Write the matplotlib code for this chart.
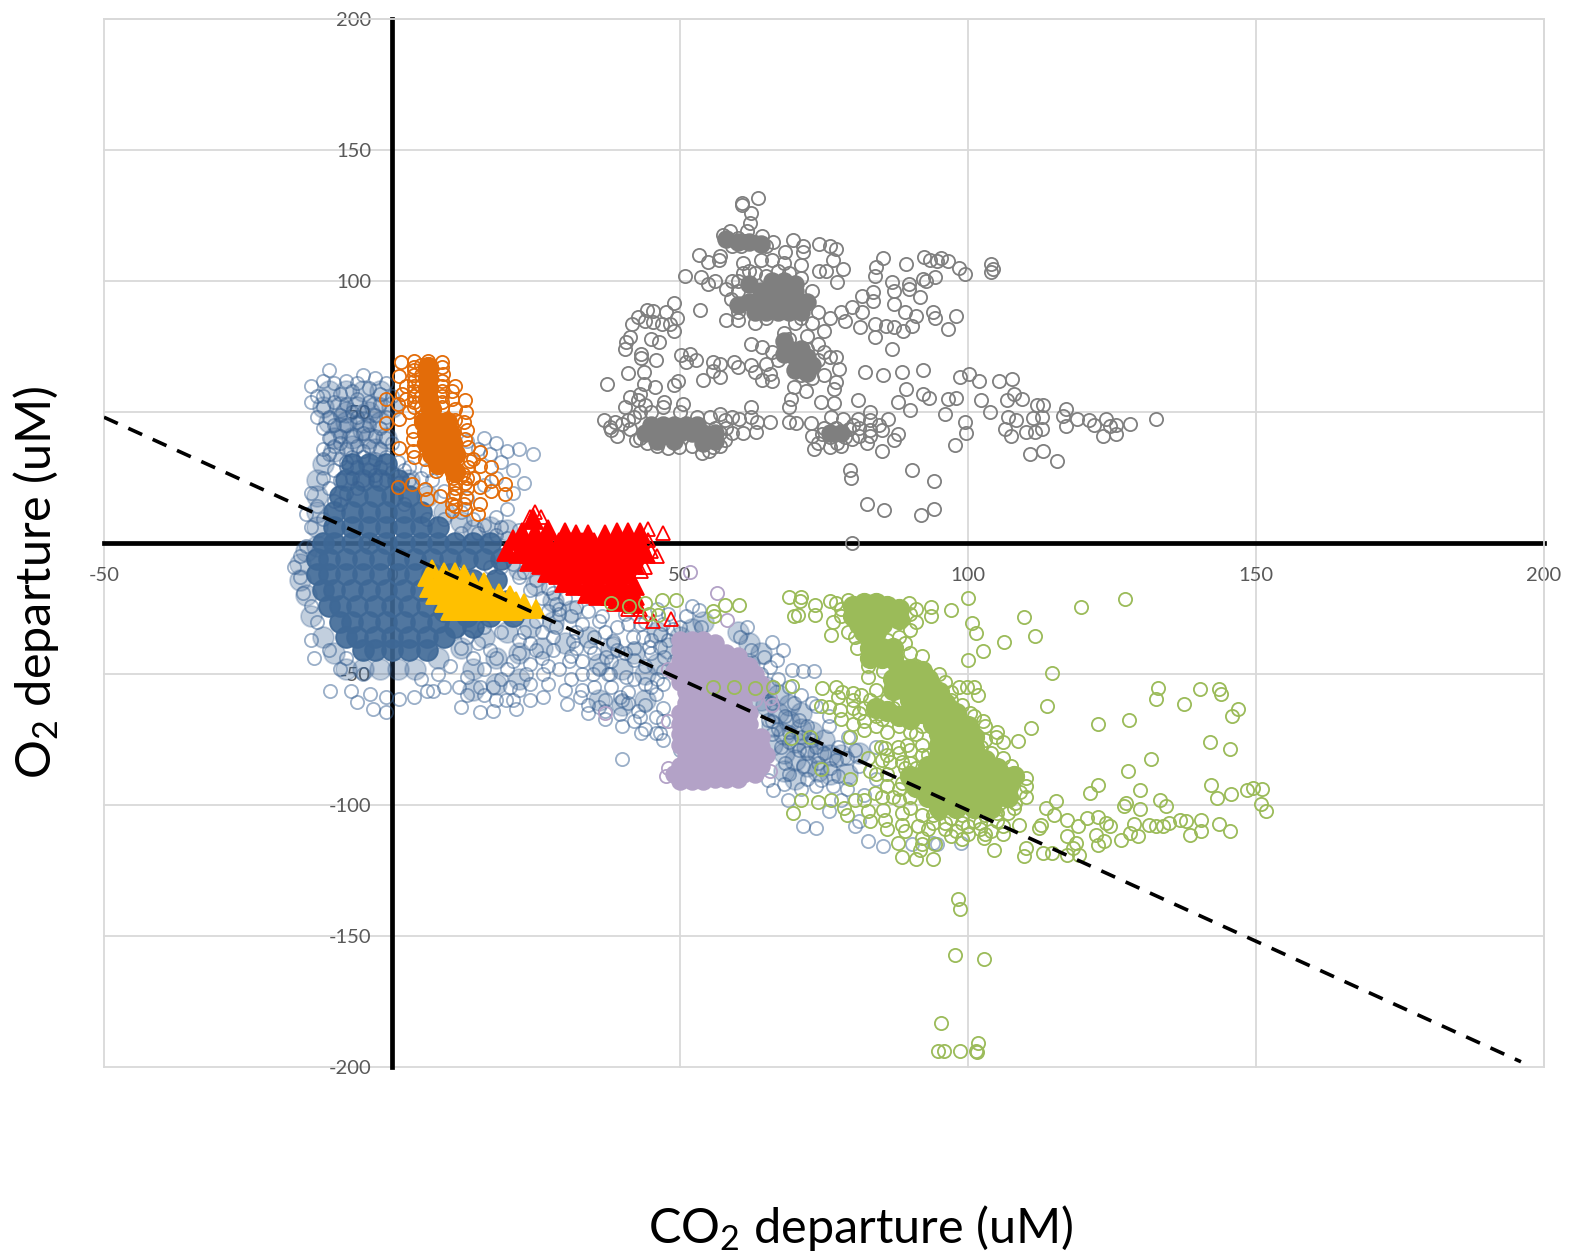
import numpy as np
from matplotlib import pyplot as plt

plt.rcParams['font.family'] = ['Lato', 'DejaVu Sans']
plt.rcParams['mathtext.default'] = 'regular'
plt.rcParams['axes.unicode_minus'] = False

# Departure values as (CO2, O2) pairs
blue_rings = [
    (-11,66),(-12,62),(-14,60),(-13,56),(-10,61),(-8,62),(-6,61),(-5,64),(-3,63),(-1,61),(-9,57),(-7,58),(-4,59),(-2,57),
    (-14,54),(-12,52),(-10,54),(-8,53),(-6,55),(-4,54),(-2,53),(0,56),(-13,48),(-11,48),(-9,49),(-7,50),(-5,50),(-3,49),(-1,48),
    (-12,44),(-10,45),(-8,45),(-6,46),(-4,45),(-2,44),(-11,40),(-9,41),(-7,41),(-5,42),(-3,41),(-1,40),(-12,36),(-10,37),(-8,36),
    (-6,37),(-4,37),(-2,36),(0,38),(-12,32),(-9,32),(-7,33),(-5,33),(-3,32),(-1,33),(1,31),(-10,28),(-8,29),(-6,29),(-4,28),(-2,29),
    (0,27),(2,28),(-12,25),(-9,24),(-7,25),(-5,24),(-3,24),(-1,24),(1,23),(3,24),(-14,19),(-13,14),(-11,21),(-15,11),(-14,6),(-12,9),
    (-10,16),(-8,19),(6,41),(8,37),(13,39),(16,40),(18,38),(20,35),(22,36),(24.5,34),(17,34),(19,31),(15,36),(21,28),(18,25),(16,22),
    (23,23),(21,19),(5,25),(7,24),(3,29),(20,13),(18,10),(16,7),(14,9),(19,6),(12,4),(22,5),
    (-16,-5),(-15,-1),(-17,-9),(-16,-13),(-15.5,-19),(-14,-24),(-13,-30),(-14,-37),(-13.5,-44),(-11,-41),(-9,-48),(-8,-44),(-5,-50),
    (-10.8,-56.6),(-7.2,-56.6),(-6,-60.8),(-3.3,-63.4),(-1,-64.6),(-3.9,-57.6),(-1,-58.9),(1.3,-59.5),(3.9,-58.9),(6,-56.4),(7.1,-56.4),
    (11.7,-55),(11.9,-62.7),(15.2,-64.6),(17.6,-64),(21.6,-63.4),(26.2,-58.9),(19.8,-60),(15.2,-55),(20.4,-55),(17.6,-55),(23.3,-50),
    (26.2,-50),(30.3,-61.5),(32.6,-58.9),(36,-62.7),(39.5,-65.3),(43,-66.5),(39.5,-58.9),(42.7,-64),(45.9,-66.5),(45.9,-57.6),(40.7,-51),
    (37.8,-50),(37.2,-43.6),(34.3,-39.8),(31.4,-37.3),(28.5,-32),(25,-29.6),(28,-41),(30.8,-45),(34.9,-50),(44.7,-39.8),(46.5,-34.7),
    (41.8,-36),(38.4,-37.3),(36,-29.6),(32,-24.6),(28.5,-23.3),(12,-40),(14,-44),(16,-48),(18,-44),(20,-48),(22,-42),(24,-38),(26,-44),
    (10,-47),(8,-50),(13,-51),(16,-58),(19,-52),(22,-56),(24,-60),(18,-60),(33,-31),(35,-36),(37,-34),(39,-41),(33,-45),(36,-48),(31,-52),
    (34,-62),(37,-60),(41,-61),(44,-62),(47,-63),(36.4,-28),(40.5,-27),(39,-32),(43.5,-36),(46.5,-39.6),(38.3,-38),(40.5,-42),(37.5,-50),
    (42,-44.7),(45,-42),(47.3,-43.4),(48.8,-33),(51,-28),(53.3,-25.6),(53.7,-32),(61.6,-32),(60.4,-35.8),(66,-37.7),(67.9,-40.9),(65.7,-47.2),
    (69.5,-48.5),(73.2,-48.7),(71.4,-49),(62.3,-41),(64.6,-43.4),(66.8,-44.7),(69.8,-61),(73.6,-62.4),(75.9,-70),(72.1,-70),(66,-61),(68.3,-66.2),
    (70.6,-67.5),(65.3,-67.5),(73.6,-77.7),(77.4,-77.7),(80.4,-79),(81.1,-85.3),(67.6,-77.7),(70.6,-79),(64.6,-81.5),(68.3,-84),(71.4,-85.3),
    (74.4,-90.4),(77.4,-89),(76.6,-92.9),(65.3,-90.4),(66.1,-94.2),(68.7,-98),(73.6,-92.9),(75.9,-102.4),(80.4,-108),(81.1,-106),(71.4,-108),
    (73.6,-108.8),(82.6,-113.8),(85.3,-115.7),(94.7,-115),(94,-114.5),(98.8,-114.5),(90.2,-115),(84.1,-77.7),(79.2,-73.9),(75.9,-66.2),(72.9,-61.2),
    (46.5,-72.6),(43.2,-72.6),(45.8,-72.6),(47,-75),(50,-79),(40,-82.4),(66,-68),(67,-71),(69,-72),(71,-74),(73,-75),(75,-80),(77,-83),(79,-82),
    (66,-73),(69,-76),(72,-80),(74,-84),(76,-86),(69,-88),(72,-90),(68,-92),(71,-94),(79,-94),(82,-96),(84,-90),(78,-98),(69,-55),(71,-58),(67,-52),
    (64,-50),(66,-55),(64,-57),(45,-55),(42,-52),(47,-49),(44,-47),(38,-55),(35,-55),
    (28,-36),(31,-43),(33,-50),(30,-56),(24,-46),(27,-54),(21,-60),(13,-58),(9,-55),(5,-52),(41,-57),(44,-54),(47,-54),(37,-64),(40,-60),(33,-56),
    (38,-45),(42,-40),(45,-37),(48,-37),(35,-42),(32,-34),(29,-27),(26,-34),(23,-34),(41,-31),(44,-30),(47,-31),(50,-32),(52,-24),(48,-27),(46,-25),
    (43,-31),(49,-45),(46,-52),(42,-68),(44,-71),(47,-68),(40,-70),(37,-67),(34,-65),
    (21,-8),(23,-11),(25,-14),(27,-17),(22,-13),(24,-18),(26,-21),(28,-19),(30,-21),(29,-25),(27,-26),(31,-28),(34,-26),(24,-3),(21,-2),(19,-9),(17,-9),
    (20,2),(18,3),(15,4),(-12,56),(-6,48),(-9,38),(-5,35),(-8,31),(-11,34),(-3,26),(-6,21),(-9,15),(6,28),(9,20),(13,17),(12,12),(9,9),(6,9),(2,15),
    (13,-36),(16,-32),(19,-34),(22,-37),(25,-41),(27,-47),(21,-45),(17,-41),(15,-38),(24,-54),(29,-48),(32,-40),
]
blue_mid = [
    (-11,58),(-8,58),(-5,58),(-2,58),(-12,52),(-9,52),(-6,52),(-3,52),(0,52),(-11,46),(-8,46),(-5,46),(-2,46),(-10,40),(-7,40),(-4,40),(-1,40),(-10,35),(-13,24),
    (-13,18),(-13,12),(-13,6),(3,24),(6,18),(9,12),(12,8),(14,5),(17,6),(20,5),(-15,-3),(-16,-8),(-16,-14),(-15,-20),(-14,-28),(-12,-36),(-10,-42),(-8,-48),(-5,-48),
    (-2,-48),(1,-48),(4,-48),(8,-44),(12,-40),(16,-36),(20,-34),(24,-32),(28,-30),(14,-48),(18,-44),(22,-42),(26,-40),(30,-38),(34,-36),(38,-40),(42,-42),(18,-54),
    (22,-52),(14,-56),(36,-46),(40,-48),(44,-50),(46,-46),(36,-60),(40,-62),(44,-60),(48,-40),(50,-36),(54,-30),(52,-33),(46,-34),
    (62,-38),(64,-42),(65,-55),(67,-58),(69,-62),(71,-65),(65,-62),(67,-65),(69,-68),(71,-71),(73,-72),(75,-75),(66,-70),(68,-73),(70,-76),(72,-78),(74,-80),(76,-81),
    (78,-81),(66,-77),(68,-80),(70,-83),(72,-85),(74,-87),(76,-88),(79,-88),(68,-87),(70,-90),(81,-80),(60,-34),(62,-46),(64,-60),
    (-8,50),(-4,50),(-9,44),(-5,43),(-7,37),(-3,36),(-12,30),(-13,-1),(22,-10),(25,-16),(28,-22),(31,-26),
]
blue_core = [
    (-7,30),(-4,30),(-1,30),(-8,24),(-5,24),(-2,24),(1,24),(-9,18),(-6,18),(-3,18),(0,18),(3,18),(-10,12),(-7,12),(-4,12),(-1,12),(2,12),(5,12),
    (-10,6),(-7,6),(-4,6),(-1,6),(2,6),(5,6),(8,6),(-12,0),(-10,0),(-7,0),(-4,0),(-1,0),(2,0),(5,0),(8,0),(11,0),(14,0),(17,0),
    (-13,-6),(-11,-6),(-8,-6),(-5,-6),(-2,-6),(1,-6),(4,-6),(7,-6),(10,-6),(13,-6),(16,-6),(19,-6),
    (-13,-12),(-11,-12),(-8,-12),(-5,-12),(-2,-12),(1,-12),(4,-12),(7,-12),(10,-12),(14,-14),(18,-14),
    (-12,-18),(-10,-18),(-7,-18),(-4,-18),(-1,-18),(2,-18),(5,-18),(8,-18),(12,-20),(16,-20),(20,-22),
    (-11,-24),(-9,-24),(-6,-24),(-3,-24),(0,-24),(3,-24),(6,-24),(9,-26),(13,-28),(17,-28),(21,-28),
    (-9,-30),(-7,-30),(-4,-30),(-1,-30),(2,-30),(5,-30),(8,-30),(11,-32),(14,-32),
    (-8,-36),(-6,-36),(-3,-36),(0,-36),(3,-36),(6,-36),(9,-36),(-5,-41),(-3,-41),(0,-41),(3,-41),(6,-41),
]
grey_rings = [
    (63.5,131.5),(60.7,129.6),(60.8,129),(62.3,125.9),(62.1,122),(61.6,119),(57.4,117.5),(58.7,119),(60,116.6),(61.3,115.4),(63,114.7),(64.2,117.3),
    (64.9,113.5),(66.2,114.7),(59,113.5),(60.6,113.5),(69.7,115.6),(68.2,110.9),(71.4,113.5),(71.4,110.9),(74.2,114.3),(76,113.5),(77.1,112.2),(76.5,108),
    (78.3,104.6),(74.2,103.7),(75.4,103.7),(77.2,99.5),(53.3,110),(54.8,107.4),(56.7,108),(57,109.6),(50.8,102),(53.7,101.4),(54.8,99),(56.1,99.9),
    (49,91.6),(53.5,89),(58.9,93),(85.2,108.8),(84,105.2),(83.9,101.8),(89.3,106.5),(92.4,109),(93.4,108.1),(94.6,107.7),(95.3,108.8),(96.6,107.5),
    (98.4,105),(99.4,102.7),(104,106.5),(104.3,104.6),(104,103.3),(94.3,101.4),(92.7,100.1),(92.2,100.8),(86.8,99.7),(89.7,98.9),(87.1,96.3),(89.7,97),
    (81.6,94.4),(83.5,95.7),(79.9,90),(81.6,88),(83.5,92.5),(87.1,91.2),(91.7,93.8),(89.1,88),(91,86.8),(94,88),(94.3,85.9),(97.9,86.5),(96.6,81.7),
    (81.2,82.4),(83.9,83.6),(85.8,83),(87.1,82.4),(88.8,81),(90.3,83),(83.9,78.6),(86.8,73.9),(78.6,84.9),(44.3,89),(45.3,88.7),(47.6,88),(42.7,86.4),
    (44,84.9),(45.3,84.3),(46.9,83.6),(48.2,83.6),(49.5,85.9),(41.7,83.6),(48.9,81),(45,77.9),(46.3,76.6),(41.4,78.6),(40.7,76.6),(40.5,74.1),(43.3,72.2),
    (43.3,70.6),(45.8,69.7),(50.1,71.6),(51.8,72),(51,69),(52.8,69.9),(41,64.8),(43.8,65.2),(37.3,60.5),(43.7,60.8),(45.6,59.5),(48.9,60.2),(49.7,61.7),
    (54,62.4),(55.8,69),(57,68.4),(59.3,69),(60,67),(55.8,65.8),(57,63.3),(62.3,76),(64.2,74.7),(64.9,68.4),(62.3,67.8),(63,65.2),(65.6,64.6),(64.2,62.4),
    (65.9,62),(69.8,59.5),(71.8,58),(74.4,53.8),(76.7,53.4),(69.2,55),(69,52),(77,61.4),(76.7,58.9),(77.6,66.5),(76,71),(82.2,65.2),(85.2,64.2),(88.6,65.2),
    (92.2,65.9),(89.3,58.9),(92.2,56.7),(93.3,55.5),(87.8,53.8),(90,50.9),(96,49.4),(96.6,55),(97.9,55.3),(98.6,63.3),(100.2,64.6),(101.9,61.8),(105.4,61.7),
    (107.7,62.7),(102.2,54.4),(103.8,50),(106.7,54.4),(108,57),(109.3,55),(112,52.8),(113,52.5),(107,48),(108.4,46.8),(111.3,47.8),(112.9,48),(117,51.3),
    (116.5,48.3),(117.1,44.5),(119,47.5),(121,47),(121.8,45.2),(124,47.2),(124.7,44.5),(125.7,45),(123.4,41),(125.7,41.7),(128.2,45.6),(132.7,47.5),(106.4,43.7),
    (107.4,40.7),(110,42.4),(111.6,42.4),(112.9,43.7),(110.7,34),(113,35),(115.4,31.3),(99.5,46.2),(99.6,42.1),(97.8,37.3),(79.6,28),(79.7,24.9),(90.3,27.8),
    (94.1,23.6),(82.5,14.8),(85.5,12.6),(91.8,10.7),(94.1,13),(79.8,0),(72.7,45.8),(73,41),(73.2,35.7),(74.7,41.7),(76,40.5),(77.3,41.7),(78.6,40.5),(79.9,39.8),
    (76,36.7),(77.3,38),(79.3,43.7),(80.9,47.5),(82.9,46.8),(84.5,45),(86.1,47.5),(87.8,41.7),(87.1,39.2),(85,35),(82.5,38),(80.9,54.4),(82.9,50),(78.3,47.5),
    (76.3,48),(69,46.2),(70.1,45.8),(62.3,52),(62.3,48),(65.6,46.2),(63.3,46),(61,41.8),(63.2,42.4),(60.3,47.5),(36.8,46.8),(37.8,44.3),(38.8,46.2),(40.4,52),
    (41.4,55.7),(43,57),(42.7,54.4),(44,52.5),(47.3,53.8),(50.5,53),(47,52),(40,45.6),(41.4,43.7),(42.3,39.2),(44.2,38),(47.9,36.4),(49.9,36.7),(53.8,34.4),
    (55.8,36.7),(57.8,39.2),(56.9,49.4),(55.2,48),(57.8,46.8),(56,44),(57,42),(59,100),(60,96),(61,103),(63,103),(65,102),(67,104),(69,103),(71,101),(73,96),
    (72,92),(74,88),(76,86),(78,88),(71,86),(70,84),(73,84),(75,81),(68,80),(69,78),(60,88),(58,85),(60,85),(63,84),(65,86),(72,79),(74,76),(75,73),(77,71),
    (72,74),(66,73),(67,70),(74,70),(71,64),(73,63),(75,64),(61,107),(64,108),(66,108),(68,107),(71,106),(62,104),(60,100),(58,97),
    (75,44),(77,44),(81,44),(83,43),(85,43),(74,38),(78,37),(80,45),(81,41),(83,41),(38,43),(39,41),(42,48),(43,50),(45,50),(50,50),(53,48),(58,44),(59,42),(41,47),
    (43,40),(46,37),(52,37),(55,35),(57,37),(59,48),
]
grey_core = [
    (63,88),(65,88),(67,88),(69,88),(71,88),(62,92),(64,92),(66,92),(68,92),(70,92),(72,92),(64,96),(66,96),(68,96),(70,96),(66,100),(68,100),(62,99),(70,99),(60,91),
    (44,42),(46,42),(48,42),(50,42),(52,42),(54,42),(56,42),(45,45),(47,45),(49,45),(51,45),(53,45),(46,39),(49,39),(54,38),(56,39),
    (68,77),(69,74),(70,71),(71,68),(72,65),(71,74),(72,71),(73,68),(68,72),(70,66),(58,116),(60,115),(62,115),(64,114),(76,42),(78,42),
]
orange_rings = [
    (1.6,69),(3.9,69.6),(6.3,69.3),(8.6,69.2),(1.3,63.9),(8.9,64.5),(10.9,60),(12.6,54.6),(12.9,49.9),(-1,55),(-1.1,45.8),(1.3,47.3),(1,53),(3.6,42.9),
    (3.6,39.7),(1.2,36.3),(3.6,35.2),(3.9,32.7),(5.8,32),(1,21.2),(3.4,22.5),(5.7,20.6),(6,16.8),(8.3,18),(10.6,17.4),(10.4,12.3),(12.7,13),(15,11),(15.2,14.9),
    (12.9,17.4),(15.2,21.2),(17.2,20),(19.7,22.5),(19.7,18.7),(17.2,28.9),(15.2,29.5),(15.2,34.6),(13.2,36.5),(12.6,39.7),(7.7,27.6),(10.6,25),(17.2,23.8),
    (13.2,28.9),(13.5,31.4),(12.3,26.3),(3.9,66),(3.9,62),(3.9,58),(3.9,54),(8.7,60),(8.7,56),(8.7,52),(3,50),(5,48),(1.8,57),(10.5,55),(11,51),(11,21),(11,14),
    (13,21),(10.4,15),(12.6,23),(14,25),(14,32),(3.9,67),(3.9,64),(3.9,60),(3.9,56),(3.9,52),(8.7,67),(8.7,62),(8.7,58),(8.7,54),(2.5,60),(2.5,55),(10.5,58),(5,52),
    (5,56),(5,60),(5,64),(5,68),(11,47),(12.5,46),(13,43),(11,19),(12.5,15),(13,25),(11,23),
]
orange_core = [
    (6.3,67),(6.3,63),(6.3,59),(6.3,55),(6.8,51),(5.5,46),(7.5,46),(9.5,46),(6,42),(8,42),(10,42),(6,38),(8,38),(10.5,38),(7,34),(9,34),(11,34),(8,30),(10,30),(11,27),
]
yellow_vals = [
    (7,-10),(9,-11),(11,-11),(12.5,-12),(6,-13),(8,-14),(10,-14),(12,-14),(14,-15),(16,-15),(6.5,-17),(8.5,-17),(10.5,-17),(12.5,-17),(14.5,-18),(16.5,-18),(18.5,-19),
    (20.5,-20),(7.5,-20),(9.5,-20),(11.5,-20),(13.5,-20),(15.5,-21),(17.5,-21),(19.5,-22),(21.5,-22),(23,-23),(9,-23),(11,-23),(13,-23),(15,-24),(17,-24),(19,-24),
    (21,-25),(23,-25),(25,-25),(10,-26),(12,-26),(14,-26),(16,-26),(18,-26),(20,-26),(11,-26),(14,-26),(19,-26),(21,-26),
]
red_open = [
    (44.4,5.3),(47,4),(48.5,-29),(45.3,-29.6),(43.3,-27.7),(43.3,-10.6),(44,-9.3),(24.8,12),(24,10),(25.8,10),(45,-3),(46,-5),(44.5,1),(43,-25),(41,-25),
]
red_core = [
    (24.5,9),(22.5,4),(24.8,4),(27,5),(30,4),(32,3),(34,3),(37,3),(39,4),(41,4),(43,4),(21,1),(23,0),(25,0),(27,0),(29,0),(31,0),(33,0),(35,0),(37,0),(39,0),(41,0),(43,0),
    (20,-3),(22,-4),(24,-4),(26,-4),(28,-4),(30,-4),(32,-4),(34,-4),(36,-4),(38,-4),(40,-4),(42,-4),(44,-4),(24,-7),(26,-8),(28,-8),(30,-8),(32,-8),(34,-8),(36,-8),(38,-8),(40,-8),(42,-8),
    (27,-11),(29,-12),(31,-12),(33,-12),(35,-12),(37,-12),(39,-12),(41,-12),(30,-15),(32,-16),(34,-16),(36,-16),(38,-16),(40,-16),(42,-16),(34,-19),(36,-20),(38,-20),(40,-20),(42,-20),(39,-22),(42,-23),
]
purple_rings = [
    (56.5,-19),(51.8,-11),(58.2,-29.4),(65.7,-59),(65.7,-87),(37,-65),(48,-48),(63,-60),(48,-68),(64,-84),(47.5,-89),(48,-86),(66,-62),
]
purple_core = [
    (50,-37),(52,-37),(54,-37),(56,-38),(50,-41),(52,-41),(54,-41),(56,-41),(58,-42),(60,-43),(50,-45),(52,-45),(54,-45),(56,-45),(58,-45),(60,-46),(62,-47),
    (49,-49),(51,-49),(53,-49),(55,-49),(57,-49),(59,-49),(61,-49),(63,-50),(50,-53),(52,-53),(54,-53),(56,-53),(58,-53),(60,-53),(62,-53),(64,-54),
    (51,-57),(53,-57),(55,-57),(57,-57),(59,-57),(61,-57),(63,-57),(51,-61),(53,-61),(55,-61),(57,-61),(59,-61),(61,-61),(50,-65),(52,-65),(54,-65),(56,-65),(58,-65),(60,-65),(62,-65),
    (50,-69),(52,-69),(54,-69),(56,-69),(58,-69),(60,-69),(62,-69),(50,-73),(52,-73),(54,-73),(56,-73),(58,-73),(60,-73),(62,-73),(64,-74),
    (50,-77),(52,-77),(54,-77),(56,-77),(58,-77),(60,-77),(62,-77),(64,-78),(51,-81),(53,-81),(55,-81),(57,-81),(59,-81),(61,-81),(63,-81),(65,-81),
    (50,-85),(52,-85),(54,-85),(56,-85),(58,-85),(60,-85),(62,-85),(64,-85),(49,-88),(51,-88),(53,-88),(55,-88),(57,-88),(59,-88),(61,-88),(63,-88),(50,-91),(52,-91),(54,-91),(56,-90),(58,-90),(60,-90),
]
green_rings = [
    (38.1,-23),(41.1,-24),(43.9,-23),(46.9,-21.8),(49.3,-21.8),(44.7,-27),(46.2,-27.5),(55.7,-26),(55.9,-28),(57.8,-23.7),(60.2,-23.5),(68.9,-20.8),(71,-20.8),(70.8,-22),
    (73.4,-23.7),(73.4,-27.3),(69.8,-28),(70.4,-27.3),(76.1,-22.2),(77,-23),(79.2,-21.8),(76.6,-30),(76.2,-35),(79.2,-33.9),(80.4,-35.8),(90,-33.2),(89.8,-23),(91,-25),
    (93.5,-24.4),(93.5,-28),(97.1,-25.6),(100,-21),(100.7,-30.5),(101.4,-34.3),(109.8,-28.2),(111.6,-35.4),(106.3,-37.7),(102.6,-41.2),(100,-44.8),(119.7,-24.4),(127.2,-21.4),
    (114.6,-49.7),(80.8,-40),(82.6,-47),(82.6,-51),(85.3,-49),(113.8,-62.4),(111,-70.7),(108.6,-75.4),(122.5,-69),(127.9,-67.5),(133,-55.2),(132.6,-59.6),(137.5,-61.5),
    (140.2,-55.7),(143.5,-55.7),(144,-57.7),(146.9,-63.3),(145.8,-65.9),(142,-75.8),(145.4,-78.7),(131.7,-82.4),(127.7,-86.9),(122.5,-92.3),(121.1,-95.4),(129.8,-94.2),
    (142.2,-92.3),(143.2,-97.3),(145.6,-95.7),(148.4,-94.2),(149.5,-93.5),(151,-93.8),(150.9,-99.5),(151.7,-102.2),(133.4,-98.2),(134.3,-100.5),(129.8,-101.5),(127,-100.5),
    (127.4,-99.2),(145.4,-110),(143.5,-107.2),(140.5,-110),(138.6,-111.3),(140.4,-105.6),(137.9,-106.2),(136.8,-105.8),(134.9,-106.9),(133.8,-108),(132.6,-108),(131.4,-107.5),
    (129.6,-112),(128.1,-110.7),(126.6,-113.2),(128.9,-107.1),(124.7,-108),(124,-106.9),(122.5,-104.7),(120.6,-105),(122.3,-111.3),(122.5,-115.1),(123.6,-113.8),(119.1,-108),
    (117.2,-105.6),(115.3,-98.6),(113.5,-101.1),(115,-103.7),(112.3,-108.8),(112.7,-107.5),(108.9,-107.5),(117.2,-112),(118.7,-114.5),(119.3,-118.9),(117.2,-118.9),(118.3,-116.4),
    (114.6,-118.3),(113.1,-118.5),(110.1,-116.4),(109.7,-119.3),(104.6,-117.3),(102.8,-112.6),(98.3,-136),(98.6,-139.6),(97.7,-157.2),(102.8,-158.9),(95.3,-183.2),(94.8,-194),
    (95.9,-194),(98.6,-194),(101.7,-190.9),(101.4,-193.8),(101.6,-194.4),(74.7,-55.2),(77,-54.8),(78.1,-56.7),(80,-57.4),(81.5,-58),(77.4,-58.6),(74.4,-62.4),(75.9,-62.7),
    (77.7,-63.7),(81.1,-65),(84.1,-56),(84.1,-66.2),(85.6,-64.3),(88.6,-56),(81.9,-71.3),(84.9,-77.7),(85.6,-78.3),(87.9,-77.7),(89.4,-77),(82.6,-82),(86.4,-83.4),(88.6,-83.4),
    (55.7,-55),(59.3,-55),(63.1,-55.5),(66.1,-54.8),(69.5,-54.6),(69.2,-74.5),(72.6,-73.9),(79.6,-74.2),(74.4,-86.2),(79.6,-90),(71,-98),(69.6,-103),(74,-99),(76.2,-98),(80.4,-98),
    (78.5,-101),(82.6,-102.4),(85.3,-101.8),(88.6,-103),(85.6,-105.6),(88.6,-107.5),(91.3,-108),(87.9,-114.5),(92,-112.6),(94.3,-115),(88.6,-120),(90.9,-120.5),(93.9,-120.8),
    (91.7,-117),(83.8,-95.4),(86,-92.9),(88.6,-91.6),(99.9,-54.8),(98.4,-55),(101,-55),(101.8,-58.2),(100.3,-65),(102.6,-68.1),(104.8,-73.9),(102.2,-77.7),(107.4,-85.3),
    (110.1,-89.7),(110.1,-92.9),(108.2,-99.2),(95,-103),(97,-105),(99,-104),(101,-106),(103,-104),(105,-106),(94,-107),(96,-109),(98,-110),(100,-111),(102,-109),(104,-110),
    (106,-108),(97,-112),(99,-113),(84,-70),(86,-72),(88,-70),(90,-72),(92,-70),(83,-60),(86,-60),(78,-67),(80,-69),(88,-60),(91,-73),(92,-77),(92,-81),(90,-84),(93,-81),
    (105,-72),(106,-76),(104,-80),(106,-82),(84,-36),(86,-37),(88,-36),(78,-28),(78,-25),(90,-27),(91,-30),(89,-38),(90,-42),
    (80,-60),(82,-63),(85,-67),(87,-63),(82,-68),(80,-63),(96,-107),(99,-107),(102,-107),(105,-103),(107,-103),(108,-101),(94,-104),(92,-104),(90,-101),(88,-98),(85,-97),
    (82,-98),(79,-104),(83,-106),(86,-109),(89,-110),(92,-115),(100,-108),(103,-111),(106,-111),(93,-109),(87,-97),(90,-97),(88,-94),(86,-88),(89,-86),(91,-86),(84,-88),
    (85,-83),(83,-87),(86,-81),(90,-79),(88,-80),(103,-75),(103,-70),(101,-66),(99,-62),(97,-60),(103,-90),(109,-95),(110,-97),(92,-43),(91,-47),(95,-50),(96,-53),(97,-57),
]
green_core = [
    (80,-24),(82,-23),(84,-23),(86,-24),(88,-25),(80,-28),(82,-27),(84,-27),(86,-28),(88,-29),(81,-31),(83,-31),(85,-31),(82,-34),(84,-34),(83,-40),(85,-40),(87,-40),(83,-44),(85,-44),(87,-44),
    (88,-48),(90,-48),(92,-49),(87,-52),(89,-52),(91,-52),(93,-52),(87,-56),(89,-56),(91,-56),(93,-56),(95,-57),(90,-60),(92,-60),(94,-60),(96,-61),(84,-63),(86,-64),(92,-65),(94,-65),(96,-65),(98,-65),
    (88,-66),(90,-67),(94,-69),(96,-69),(98,-69),(100,-70),(95,-73),(97,-73),(99,-74),(101,-74),(95,-77),(97,-77),(99,-77),(101,-78),(95,-81),(97,-81),(99,-81),(101,-82),(103,-83),
    (93,-85),(95,-85),(97,-85),(99,-85),(101,-85),(103,-86),(105,-86),(90,-89),(92,-89),(94,-89),(96,-89),(98,-89),(100,-89),(102,-89),(104,-89),(106,-89),(108,-89),
    (91,-93),(93,-93),(95,-93),(97,-93),(99,-93),(101,-93),(103,-93),(105,-93),(107,-93),(93,-97),(95,-97),(97,-97),(99,-97),(101,-97),(103,-97),(105,-97),(107,-97),(95,-101),(98,-101),(101,-101),(104,-101),
]
trend_x = [-50, 196]
trend_y = [48, -198]
x_ticks = [-50, 0, 50, 100, 150, 200]
y_ticks = [-200, -150, -100, -50, 0, 50, 100, 150, 200]


def draw_series(ax, points, color, filled=False, marker='o', size=9.5, alpha=1.0, zorder=3):
    values = np.array(points)
    ax.plot(values[:, 0], values[:, 1], linestyle='none', marker=marker, markersize=size,
            markeredgecolor=color, markeredgewidth=1.3, alpha=alpha, zorder=zorder,
            markerfacecolor=color if filled else 'none')


fig = plt.figure(figsize=(15.71, 12.59), dpi=100)
ax = fig.add_axes([104 / 1571, 1 - 1067 / 1259, 1440 / 1571, 1048 / 1259])
ax.set_xlim(-50, 200)
ax.set_ylim(-200, 200)

# Axes cross at zero with the tick labels next to them, as Excel draws it
ax.set_axisbelow(True)
ax.grid(True, color='#D9D9D9', linewidth=1.3, clip_on=False)
for side in ['top', 'right']:
    ax.spines[side].set_color('#D9D9D9')
    ax.spines[side].set_linewidth(1.3)
for side in ['left', 'bottom']:
    ax.spines[side].set_position('zero')
    ax.spines[side].set_color('black')
    ax.spines[side].set_linewidth(3.4)
    ax.spines[side].set_zorder(1)
ax.set_xticks(x_ticks)
ax.set_yticks(y_ticks)
ax.tick_params(axis='x', length=0, pad=17, labelsize=14.5, labelcolor='#595959')
ax.tick_params(axis='y', length=0, pad=15, labelsize=14.5, labelcolor='#595959')

# Series, in the stacking order of the original
draw_series(ax, blue_mid, '#376092', filled=True, size=15, alpha=0.3)
draw_series(ax, blue_core, '#3E6896', filled=True, size=15, alpha=0.9)
draw_series(ax, blue_rings, '#376092', alpha=0.5)
draw_series(ax, grey_core, '#7F7F7F', filled=True, size=12, zorder=4)
draw_series(ax, grey_rings, '#7F7F7F', zorder=4)
draw_series(ax, orange_core, '#E36C09', filled=True, size=14, zorder=5)
draw_series(ax, orange_rings, '#E36C09', zorder=5)
draw_series(ax, yellow_vals, '#FFC000', filled=True, marker='^', size=13, zorder=6)
draw_series(ax, red_core, '#FF0000', filled=True, marker='^', size=15, zorder=7)
draw_series(ax, red_open, '#FF0000', marker='^', size=10, zorder=7)
draw_series(ax, purple_core, '#B3A2C7', filled=True, size=12, zorder=8)
draw_series(ax, purple_rings, '#B3A2C7', zorder=8)
draw_series(ax, green_core, '#9BBB59', filled=True, size=14, zorder=9)
draw_series(ax, green_rings, '#9BBB59', zorder=9)

ax.plot(trend_x, trend_y, color='black', linewidth=2.6, linestyle=(0, (4.2, 3.2)), zorder=10)

fig.text(861 / 1571, 1 - 1228 / 1259, 'CO$_2$ departure (uM)', fontsize=35, color='black', ha='center', va='center')
fig.text(36 / 1571, 1 - 582 / 1259, 'O$_2$ departure (uM)', fontsize=35, color='black', ha='center', va='center', rotation=90)

fig.savefig('out.png', dpi=100)
